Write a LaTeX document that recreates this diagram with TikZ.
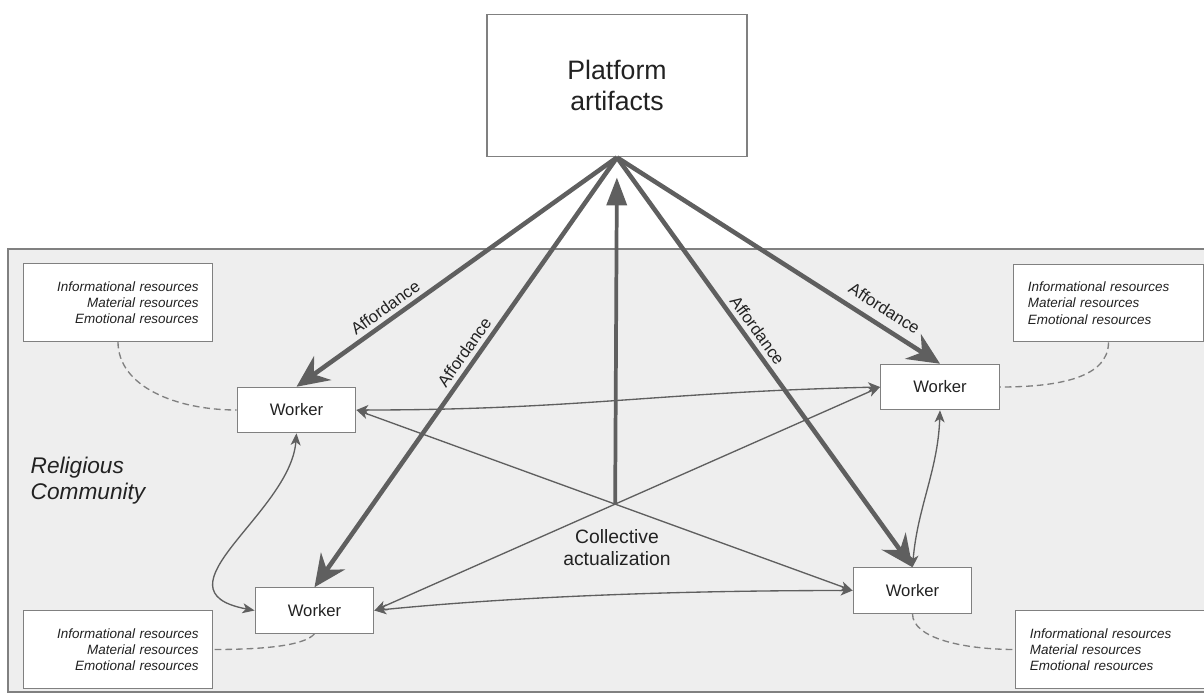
\documentclass[tikz,border=0pt]{standalone}
\usepackage{fontspec}
\setmainfont{Liberation Sans}
\usetikzlibrary{arrows.meta}
\definecolor{bggray}{HTML}{EEEEEE}
\definecolor{boxgray}{HTML}{808080}
\definecolor{arrgray}{HTML}{5F5F5F}
\definecolor{txtgray}{HTML}{222222}
\begin{document}
\begin{tikzpicture}[x=0.75pt,y=-0.75pt,
  every node/.style={text=txtgray},
  platform/.style={draw=boxgray, fill=white, line width=0.9pt, minimum width=195pt, minimum height=107pt, align=center, font=\fontsize{20}{23}\selectfont},
  worker/.style={draw=boxgray, fill=white, line width=0.9pt, minimum width=89pt, minimum height=34pt, font=\fontsize{12.5}{15}\selectfont},
  res/.style={draw=boxgray, fill=white, line width=0.9pt, minimum width=142pt, minimum height=58pt, text width=121pt, inner xsep=10.5pt, font=\fontsize{10.1}{12.2}\selectfont\itshape},
  afford/.style={draw=arrgray, line width=3.4pt, -{Stealth[length=24pt,width=22pt,inset=8pt]}},
  lbl/.style={sloped, above, font=\fontsize{12.5}{14}\selectfont},
  link/.style={draw=arrgray, line width=1pt, {Stealth[length=9pt,width=7.5pt,inset=2.5pt]}-{Stealth[length=9pt,width=7.5pt,inset=2.5pt]}},
  tie/.style={draw=boxgray, line width=1pt, dash pattern=on 5pt off 3pt}]
  \useasboundingbox (0,0) rectangle (1204,694);
  \draw[draw=boxgray, fill=bggray, line width=0.9pt] (8,249) rectangle (1215,692); % community area

  \node[platform] (pf) at (617,85.5) {Platform\\artifacts};
  \node[worker] (w1) at (296.5,410) {Worker};
  \node[worker] (w2) at (940,387) {Worker};
  \node[worker] (w3) at (314.5,610.5) {Worker};
  \node[worker] (w4) at (912.5,590.5) {Worker};

  \node[res, align=right] (r1) at (118,302.5) {Informational resources\\Material resources\\Emotional resources};
  \node[res, align=left] (r2) at (1108.5,303) {Informational resources\\Material resources\\Emotional resources};
  \node[res, align=right] (r3) at (118,649.5) {Informational resources\\Material resources\\Emotional resources};
  \node[res, align=left] (r4) at (1110.5,649.5) {Informational resources\\Material resources\\Emotional resources};

  \node[anchor=west, align=left, font=\fontsize{17}{19.5}\selectfont\itshape] (rc) at (26,481) {Religious\\Community};
  \node[align=center, font=\fontsize{14.5}{16.5}\selectfont] (act) at (617,548) {Collective\\actualization};

  % resources
  \draw[tie] (r1.south) .. controls +(0,45) and +(-60,0) .. (w1.west);
  \draw[tie] (r2.south) .. controls +(0,35) and +(60,0) .. (w2.east);
  \draw[tie] (w3.south) .. controls +(-10,12) and +(50,0) .. (r3.east);
  \draw[tie] (w4.south) .. controls +(0,25) and +(-50,0) .. (r4.west);

  % workers
  \draw[link] (w1.east) .. controls +(220,0) and +(-220,5) .. (w2.west);
  \draw[link] (w3.east) .. controls +(120,-12) and +(-200,0) .. (w4.west);
  \draw[link] (w1.south) .. controls +(-6,80) and +(-105,-20) .. (w3.west);
  \draw[link] (w2.south) .. controls +(-2,60) and +(5,-60) .. (w4.north);
  \draw[link] (w1.east) -- (w4.west);
  \draw[link] (w3.east) -- (w2.west);
  \coordinate (ca) at (intersection of w1.east--w4.west and w3.east--w2.west);

  % affordances
  \draw[afford] (pf.south) -- (w1.north) node[lbl, pos=0.7] {Affordance};
  \draw[afford] (pf.south) -- (w3.north) node[lbl, pos=0.47] {Affordance};
  \draw[afford] (pf.south) -- (w4.north) node[lbl, pos=0.44] {Affordance};
  \draw[afford] (pf.south) -- (w2.north) node[lbl, pos=0.8, above=3pt] {Affordance};
  \draw[draw=arrgray, line width=2.8pt, -{Triangle[length=21pt,width=15pt]}, shorten >=15pt] (ca) -- (pf.south);
\end{tikzpicture}
\end{document}
